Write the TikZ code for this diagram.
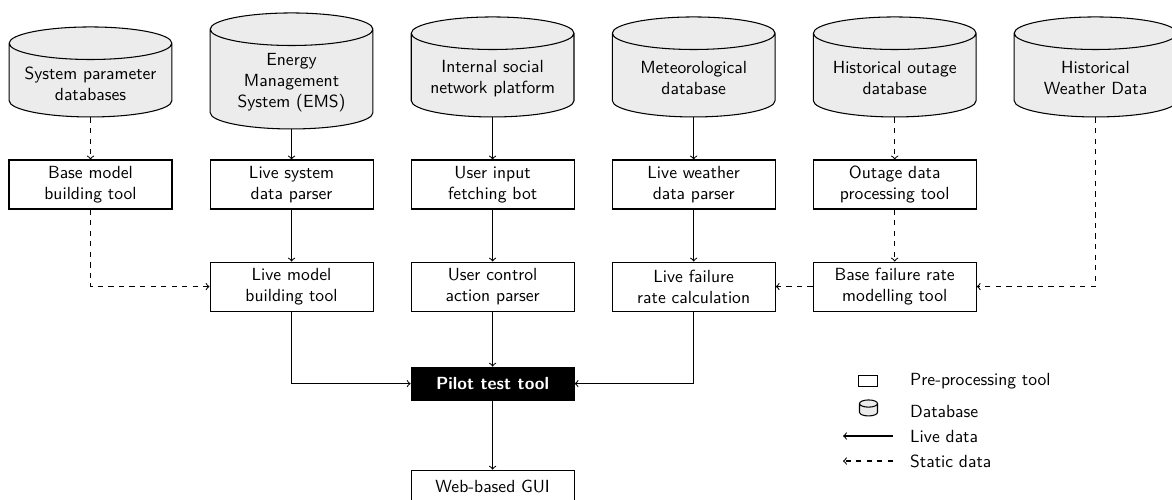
\documentclass[tikz,border=0pt]{standalone}
\usepackage{amsmath}
\usepackage{tikz}
\usetikzlibrary{positioning,calc,arrows,shapes.geometric}

\begin{document}
\begin{tikzpicture}[font=\sffamily,
	db/.style={cylinder, shape border rotate=90, aspect=0.2, draw, semithick, fill=gray!15,
		text width=3.02cm, minimum height=2cm, align=center},
	tool/.style={rectangle, draw, semithick, minimum width=3.26cm, minimum height=0.98cm, align=center},
	live/.style={->, semithick},
	static/.style={->, semithick, dashed}]
	\useasboundingbox (0,0) rectangle (23.44,-9.98);
	% pre-processing tools
	\node[tool] (BaseModel) at (1.81,-3.69) {Base model\\building tool};
	\node[tool, right = 0.74cm of BaseModel] (LiveSys) {Live system\\data parser};
	\node[tool, right = 0.74cm of LiveSys] (UserIn) {User input\\fetching bot};
	\node[tool, right = 0.74cm of UserIn] (LiveWea) {Live weather\\data parser};
	\node[tool, right = 0.74cm of LiveWea] (OutTool) {Outage data\\processing tool};
	\node[tool, below = 1.04cm of LiveSys] (LiveModel) {Live model\\building tool};
	\node[tool, right = 0.74cm of LiveModel] (UserCtrl) {User control\\action parser};
	\node[tool, right = 0.74cm of UserCtrl] (LiveFail) {Live failure\\rate calculation};
	\node[tool, right = 0.74cm of LiveFail] (BaseFail) {Base failure rate\\modelling tool};
	\node[tool, fill=black, text=white, font=\sffamily\bfseries, minimum height=0.66cm,
		below = 1.1cm of UserCtrl] (Pilot) {Pilot test tool};
	\node[tool, minimum height=0.66cm, below = 1.38cm of Pilot] (GUI) {Web-based GUI};
	% databases
	\node[db, minimum height=1.8cm, above = 0.84cm of BaseModel] (SysDb) {System parameter\\databases};
	\node[db, minimum height=2.32cm, above = 0.6cm of LiveSys] (EMS) {Energy\\Management\\System (EMS)};
	\node[db, above = 0.84cm of UserIn] (Social) {Internal social\\network platform};
	\node[db, above = 0.84cm of LiveWea] (MetDb) {Meteorological\\database};
	\node[db, above = 0.84cm of OutTool] (OutDb) {Historical outage\\database};
	\node[db, right = 0.74cm of OutDb] (WeaDb) {Historical\\Weather Data};
	% live data
	\draw[live] (EMS) -- (LiveSys);
	\draw[live] (LiveSys) -- (LiveModel);
	\draw[live] (Social) -- (UserIn);
	\draw[live] (UserIn) -- (UserCtrl);
	\draw[live] (UserCtrl) -- (Pilot);
	\draw[live] (MetDb) -- (LiveWea);
	\draw[live] (LiveWea) -- (LiveFail);
	\draw[live] (LiveModel) |- (Pilot);
	\draw[live] (LiveFail) |- (Pilot);
	\draw[live] (Pilot) -- (GUI);
	% static data
	\draw[static] (SysDb) -- (BaseModel);
	\draw[static] (BaseModel) |- (LiveModel);
	\draw[static] (OutDb) -- (OutTool);
	\draw[static] (OutTool) -- (BaseFail);
	\draw[static] (BaseFail) -- (LiveFail);
	\draw[static] (WeaDb) |- (BaseFail);
	% legend
	\node[draw, semithick, inner sep=0pt, minimum width=0.38cm, minimum height=0.22cm] (KeyTool) at (17.36,-7.62) {};
	\node[cylinder, shape border rotate=90, aspect=0.4, draw, semithick, fill=gray!15, inner sep=0pt,
		text width=0.36cm, minimum height=0.32cm] (KeyDb) at (17.37,-8.2) {};
	\coordinate (KeyLiveA) at (17.86,-8.72);
	\coordinate (KeyLiveB) at (16.86,-8.72);
	\coordinate (KeyStatA) at (17.86,-9.22);
	\coordinate (KeyStatB) at (16.86,-9.22);
	\draw[live] (KeyLiveA) -- (KeyLiveB);
	\draw[static] (KeyStatA) -- (KeyStatB);
	\node[anchor=west] (KeyToolT) at (18.08,-7.62) {Pre-processing tool};
	\node[anchor=west] (KeyDbT) at (18.08,-8.22) {Database};
	\node[anchor=west] (KeyLiveT) at (18.08,-8.72) {Live data};
	\node[anchor=west] (KeyStatT) at (18.08,-9.22) {Static data};
\end{tikzpicture}
\end{document}
